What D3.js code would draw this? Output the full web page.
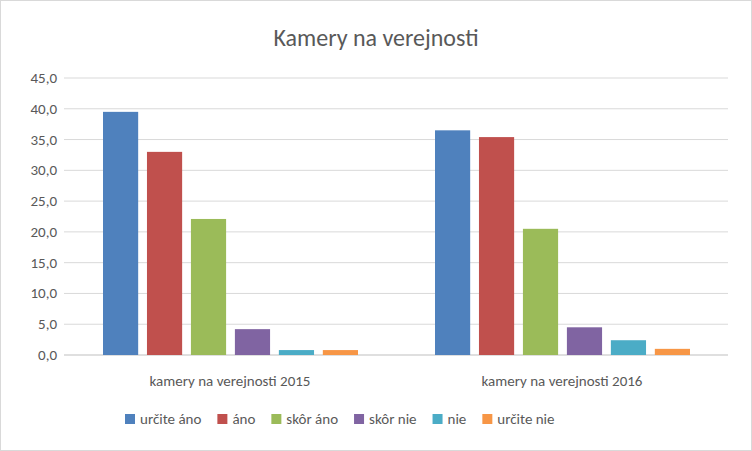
<!DOCTYPE html>
<html><head><meta charset="utf-8">
<script src="https://cdn.jsdelivr.net/npm/d3@7"></script>
<style>body{margin:0;background:#fff}text{font-family:Calibri,Carlito,"Liberation Sans",sans-serif}</style>
</head><body><svg id="c" width="752" height="451"></svg>
<script>
"use strict";
var categories = ["kamery na verejnosti 2015", "kamery na verejnosti 2016"];
var seriesNames = ["určite áno", "áno", "skôr áno", "skôr nie", "nie", "určite nie"];
var seriesColors = ["#4F81BD", "#C0504D", "#9BBB59", "#8064A2", "#4BACC6", "#F79646"];
var values2015 = [39.5, 33.0, 22.1, 4.2, 0.8, 0.8];
var values2016 = [36.5, 35.4, 20.5, 4.5, 2.4, 1.0];
var yTicks = [0, 5, 10, 15, 20, 25, 30, 35, 40, 45];

var svg = d3.select("#c");
svg.append("rect").attr("x", 0.5).attr("y", 0.5).attr("width", 751).attr("height", 450)
	.attr("fill", "#fff").attr("stroke", "#d9d9d9");

svg.append("text").attr("x", 376).attr("y", 46).attr("text-anchor", "middle")
	.attr("font-size", 24).attr("fill", "#595959").text("Kamery na verejnosti");

var x0 = d3.scaleBand().domain(categories).range([64, 728]);
var x1 = d3.scaleBand().domain(seriesNames).range([39, 294]).paddingInner(0.2).paddingOuter(0);
var y = d3.scaleLinear().domain([0, 45]).range([355, 78]);

svg.append("g").selectAll("line").data(yTicks).join("line")
	.attr("x1", 64).attr("x2", 728).attr("y1", function(d) { return y(d); }).attr("y2", function(d) { return y(d); })
	.attr("stroke", function(d) { return d === 0 ? "#bfbfbf" : "#d9d9d9"; });

svg.append("g").selectAll("text").data(yTicks).join("text")
	.attr("x", 57).attr("y", function(d) { return y(d) + 5; }).attr("text-anchor", "end")
	.attr("font-size", 15).attr("fill", "#595959")
	.text(function(d) { return d.toFixed(1).replace(".", ","); });

var data = [values2015, values2016];
categories.forEach(function(cat, ci) {
	svg.append("g").selectAll("rect").data(data[ci]).join("rect")
		.attr("x", function(d, i) { return x0(cat) + x1(seriesNames[i]); })
		.attr("width", x1.bandwidth())
		.attr("y", function(d) { return y(d); })
		.attr("height", function(d) { return y(0) - y(d); })
		.attr("fill", function(d, i) { return seriesColors[i]; });
	svg.append("text").attr("x", x0(cat) + x0.bandwidth() / 2).attr("y", 386)
		.attr("text-anchor", "middle").attr("font-size", 15).attr("fill", "#595959").text(cat);
});

// legend
var legend = svg.append("g");
var lx = 125;
seriesNames.forEach(function(name, i) {
	legend.append("rect").attr("x", lx).attr("y", 414).attr("width", 10).attr("height", 10).attr("fill", seriesColors[i]);
	var t = legend.append("text").attr("x", lx + 15).attr("y", 424).attr("font-size", 15).attr("fill", "#595959").text(name);
	lx += 15 + t.node().getComputedTextLength() + 16;
});
</script></body></html>
